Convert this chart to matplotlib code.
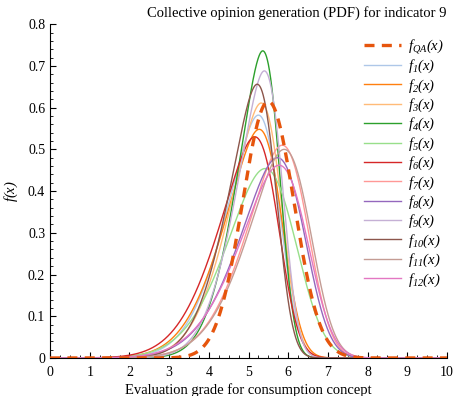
"""Collective opinion PDF curves for one indicator."""
import math

import matplotlib
import numpy as np

matplotlib.use("Agg")
from matplotlib import pyplot as plt
from matplotlib.ticker import FuncFormatter, MultipleLocator

# Each curve is a skew-normal density, described by its mode, peak height and shape.
labels = ["QA"] + [str(i) for i in range(1, 13)]
modes = [5.50, 5.25, 5.27, 5.32, 5.36, 5.42, 5.16, 5.85, 5.73, 5.40, 5.22, 5.90, 5.77]
peaks = [0.615, 0.582, 0.548, 0.611, 0.736, 0.454, 0.530, 0.510, 0.480, 0.688, 0.656, 0.500, 0.462]
shapes = [-0.5, -3.0, -3.0, -3.0, -3.0, -2.0, -3.0, -2.5, -2.5, -3.0, -3.0, -2.5, -2.5]
colors = [
    "#e6550d", "#aec7e8", "#ff7f0e", "#ffbb78", "#2ca02c", "#98df8a", "#d62728",
    "#ff9896", "#9467bd", "#c5b0d5", "#8c564b", "#c49c94", "#e377c2",
]

_erf = np.vectorize(math.erf)


def _std_skewnorm(z, alpha):
    phi = np.exp(-0.5 * z ** 2) / math.sqrt(2 * math.pi)
    cdf = 0.5 * (1 + _erf(alpha * z / math.sqrt(2)))
    return 2 * phi * cdf


def skewnorm_curve(x, mode, peak, alpha):
    z = np.linspace(-3, 3, 6001)
    dens = _std_skewnorm(z, alpha)
    k = np.argmax(dens)
    scale = dens[k] / peak
    loc = mode - z[k] * scale
    return _std_skewnorm((x - loc) / scale, alpha) / scale


plt.rcParams["font.family"] = "Liberation Serif"
plt.rcParams["mathtext.fontset"] = "custom"
plt.rcParams["mathtext.rm"] = "Liberation Serif:italic"
plt.rcParams["mathtext.it"] = "Liberation Serif:italic"

fig = plt.figure(figsize=(4.68, 3.96), dpi=100)
ax = fig.add_axes([0.107, 0.096, 0.848, 0.843])

x = np.linspace(0, 10, 2001)
for i in range(1, 13):
    ax.plot(x, skewnorm_curve(x, modes[i], peaks[i], shapes[i]), color=colors[i],
            linewidth=1.0, label=f"$f_{{{labels[i]}}}(x)$", zorder=2)
ax.plot(x, skewnorm_curve(x, modes[0], peaks[0], shapes[0]), color=colors[0],
        linewidth=2.4, dashes=(3.0, 2.2), label=f"$f_{{{labels[0]}}}(x)$", zorder=3)

handles, names = ax.get_legend_handles_labels()
handles = [handles[-1]] + handles[:-1]
names = [names[-1]] + names[:-1]
ax.legend(handles, names, loc="upper left", bbox_to_anchor=(0.77, 0.985), frameon=False,
          fontsize=10.5, handlelength=2.5, labelspacing=0.14, handletextpad=0.5,
          borderaxespad=0.2)

ax.set_xlim(0, 10)
ax.set_ylim(0, 0.8)
ax.xaxis.set_major_locator(MultipleLocator(1))
ax.xaxis.set_minor_locator(MultipleLocator(0.25))
ax.yaxis.set_major_locator(MultipleLocator(0.1))
ax.yaxis.set_minor_locator(MultipleLocator(0.02))
ax.yaxis.set_major_formatter(FuncFormatter(lambda v, _: f"{v:g}"))
ax.tick_params(which="both", direction="in", labelsize=10)
ax.tick_params(which="major", length=4)
ax.tick_params(which="minor", length=2.5)
ax.tick_params(axis="x", pad=6)
for side in ("top", "right"):
    ax.spines[side].set_visible(False)

ax.set_title("Collective opinion generation (PDF) for indicator 9", fontsize=10.5, pad=5, x=0.622)
ax.set_xlabel("Evaluation grade for consumption concept", fontsize=10.5, labelpad=3)
ax.set_ylabel("$f(x)$", fontsize=10.5)
ax.yaxis.set_label_coords(-0.075, 0.5)

fig.savefig("out.png")
plt.close(fig)
